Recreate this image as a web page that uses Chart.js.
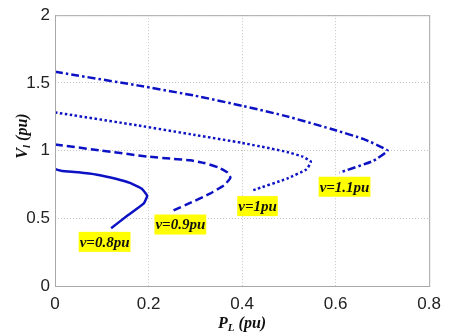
<!DOCTYPE html>
<html>
<head>
<meta charset="utf-8">
<script src="https://cdn.jsdelivr.net/npm/chart.js@4"></script>
<style>
  html, body { margin: 0; padding: 0; background: #fff; }
  #wrap { width: 449px; height: 336px; }
</style>
</head>
<body>
<div id="wrap"><canvas id="myChart" width="449" height="336"></canvas></div>
<script>
// P_L (pu) and V_l (pu), one pair of arrays per curve
const p08 = [0, 0.015, 0.05, 0.09, 0.13, 0.16, 0.185, 0.197, 0.19, 0.155, 0.12];
const v08 = [0.864, 0.85, 0.84, 0.822, 0.792, 0.762, 0.72, 0.667, 0.61, 0.52, 0.427];

const p09 = [0, 0.1, 0.2, 0.25, 0.29, 0.32, 0.35, 0.368, 0.375, 0.362, 0.33, 0.29, 0.253];
const v09 = [1.045, 1.0, 0.955, 0.94, 0.928, 0.908, 0.875, 0.84, 0.80, 0.745, 0.68, 0.615, 0.557];

const p10 = [0, 0.179, 0.3, 0.4, 0.496, 0.53, 0.547, 0.538, 0.496, 0.424];
const v10 = [1.282, 1.185, 1.115, 1.057, 0.99, 0.955, 0.918, 0.862, 0.793, 0.708];

const p11 = [0, 0.179, 0.3, 0.4, 0.496, 0.6, 0.66, 0.711, 0.68, 0.608];
const v11 = [1.582, 1.48, 1.405, 1.331, 1.253, 1.15, 1.085, 1.0, 0.923, 0.837];

// curve labels and where they sit (data units)
const labelText = ['v=0.8pu', 'v=0.9pu', 'v=1pu', 'v=1.1pu'];
const labelP = [0.106, 0.268, 0.433, 0.619];
const labelV = [0.326, 0.454, 0.59, 0.733];

const xTicks = [0, 0.2, 0.4, 0.6, 0.8];
const yTicks = [0, 0.5, 1, 1.5, 2];

const blue = 'rgb(12,18,196)';

function pts(xs, ys) {
    return xs.map((x, i) => ({x: x, y: ys[i]}));
}

// yellow boxed labels
const labelPlugin = {
    id: 'curveLabels',
    afterDatasetsDraw(chart) {
        const ctx = chart.ctx;
        const xs = chart.scales.x, ys = chart.scales.y;
        ctx.save();
        ctx.font = "italic bold 15px 'Liberation Serif'";
        ctx.textAlign = 'center';
        ctx.textBaseline = 'middle';
        labelText.forEach((t, i) => {
            const cx = xs.getPixelForValue(labelP[i]);
            const cy = ys.getPixelForValue(labelV[i]);
            const w = ctx.measureText(t).width + 2;
            ctx.fillStyle = '#ffff00';
            ctx.fillRect(cx - w / 2, cy - 10, w, 20);
            ctx.fillStyle = '#111';
            ctx.fillText(t, cx, cy + 1);
        });
        ctx.restore();
    }
};

// box round the plot + axis titles with subscripts
const framePlugin = {
    id: 'frame',
    afterDraw(chart) {
        const ctx = chart.ctx;
        const a = chart.chartArea;
        ctx.save();
        ctx.strokeStyle = '#a8a8a8';
        ctx.lineWidth = 1;
        ctx.strokeRect(a.left + 0.5, a.top + 0.5, a.right - a.left, a.bottom - a.top);

        ctx.fillStyle = '#111';
        ctx.textBaseline = 'alphabetic';
        // x title
        drawSub(ctx, 'P', 'L', ' (pu)', (a.left + a.right) / 2, 328);
        // y title
        ctx.translate(27, 136);
        ctx.rotate(-Math.PI / 2);
        drawSub(ctx, 'V', 'l', ' (pu)', 0, 0);
        ctx.restore();
    }
};

function drawSub(ctx, main, sub, rest, cx, y) {
    const big = "italic bold 16px 'Liberation Serif'";
    const small = "italic bold 11px 'Liberation Serif'";
    ctx.font = big;
    const w1 = ctx.measureText(main).width;
    const w3 = ctx.measureText(rest).width;
    ctx.font = small;
    const w2 = ctx.measureText(sub).width;
    let x = cx - (w1 + w2 + w3) / 2;
    ctx.textAlign = 'left';
    ctx.font = big;
    ctx.fillText(main, x, y);
    x += w1;
    ctx.font = small;
    ctx.fillText(sub, x, y + 3);
    x += w2;
    ctx.font = big;
    ctx.fillText(rest, x, y);
}

const ctx = document.getElementById('myChart').getContext('2d');
const chart = new Chart(ctx, {
    type: 'scatter',
    data: {
        datasets: [
            {label: 'v=0.8pu', data: pts(p08, v08), borderDash: []},
            {label: 'v=0.9pu', data: pts(p09, v09), borderDash: [8, 4]},
            {label: 'v=1pu', data: pts(p10, v10), borderDash: [2.5, 2.5]},
            {label: 'v=1.1pu', data: pts(p11, v11), borderDash: [8, 3, 2.5, 3]}
        ].map(d => Object.assign(d, {
            showLine: true,
            borderColor: blue,
            borderWidth: 2.5,
            pointRadius: 0,
            tension: 0.12,
            fill: false
        }))
    },
    options: {
        responsive: false,
        animation: false,
        layout: {padding: {top: 13, right: 15, left: 0, bottom: 0}},
        plugins: {legend: {display: false}, tooltip: {enabled: false}},
        scales: {
            x: {
                type: 'linear',
                min: 0, max: 0.8,
                afterBuildTicks: s => { s.ticks = xTicks.map(v => ({value: v})); },
                afterFit: s => { s.height = 50; },
                grid: {color: '#c4c4c4', lineWidth: 1, drawTicks: false},
                border: {display: false, dash: [1, 2]},
                ticks: {
                    padding: 8,
                    color: '#222',
                    font: {family: "'Liberation Sans'", size: 17},
                    callback: v => String(v)
                }
            },
            y: {
                type: 'linear',
                min: 0, max: 2,
                afterBuildTicks: s => { s.ticks = yTicks.map(v => ({value: v})); },
                afterFit: s => { s.width = 55; },
                grid: {color: '#c4c4c4', lineWidth: 1, drawTicks: false},
                border: {display: false, dash: [1, 2]},
                ticks: {
                    padding: 5,
                    color: '#222',
                    font: {family: "'Liberation Sans'", size: 17},
                    callback: v => String(v)
                }
            }
        }
    },
    plugins: [labelPlugin, framePlugin]
});
</script>
</body>
</html>
